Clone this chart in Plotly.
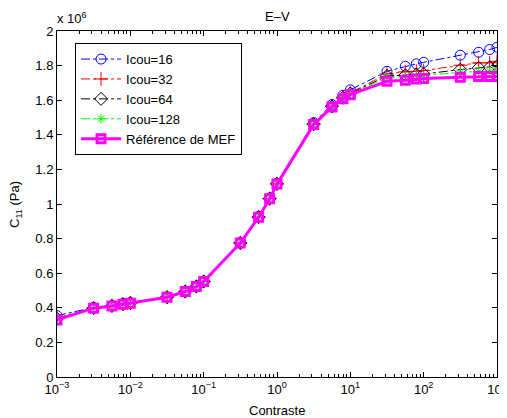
import plotly.graph_objects as go

contraste = [0.001, 0.00316, 0.00562, 0.00794, 0.01, 0.0316, 0.0562, 0.0794, 0.1,
             0.316, 0.562, 0.794, 1.0, 3.16, 5.62, 7.94, 10, 31.6, 56.2, 79.4, 100,
             316, 562, 794, 1000]

icou16 = [0.355, 0.402, 0.414, 0.424, 0.430, 0.463, 0.496, 0.525, 0.554, 0.777, 0.928,
          1.035, 1.120, 1.470, 1.575, 1.628, 1.660, 1.767, 1.796, 1.810, 1.819, 1.860,
          1.877, 1.893, 1.906]
icou32 = [0.342, 0.399, 0.412, 0.422, 0.428, 0.462, 0.495, 0.524, 0.553, 0.775, 0.925,
          1.032, 1.117, 1.463, 1.566, 1.617, 1.643, 1.752, 1.764, 1.767, 1.771, 1.802,
          1.816, 1.816, 1.825]
icou64 = [0.337, 0.398, 0.411, 0.421, 0.427, 0.461, 0.494, 0.523, 0.552, 0.774, 0.924,
          1.031, 1.116, 1.461, 1.564, 1.614, 1.639, 1.740, 1.745, 1.748, 1.751, 1.777,
          1.787, 1.790, 1.796]
icou128 = [0.334, 0.398, 0.411, 0.421, 0.427, 0.461, 0.494, 0.523, 0.552, 0.774, 0.924,
           1.030, 1.115, 1.460, 1.562, 1.611, 1.635, 1.731, 1.736, 1.739, 1.742, 1.761,
           1.764, 1.767, 1.771]
mef = [0.330, 0.398, 0.411, 0.421, 0.427, 0.461, 0.494, 0.523, 0.552, 0.774, 0.924,
       1.030, 1.115, 1.459, 1.561, 1.609, 1.632, 1.709, 1.716, 1.722, 1.725, 1.733,
       1.737, 1.737, 1.737]

x_tickvals = [1e-3, 1e-2, 1e-1, 1, 10, 100, 1000]
x_ticktext = ["10<sup>\u22123</sup>", "10<sup>\u22122</sup>", "10<sup>\u22121</sup>",
              "10<sup>0</sup>", "10<sup>1</sup>", "10<sup>2</sup>", "10<sup>3</sup>"]
y_tickvals = [0, 0.2, 0.4, 0.6, 0.8, 1.0, 1.2, 1.4, 1.6, 1.8, 2.0]
y_ticktext = ["0", "0.2", "0.4", "0.6", "0.8", "1", "1.2", "1.4", "1.6", "1.8", "2"]

minor_vals = [m * 10.0 ** e for e in range(-3, 3) for m in range(2, 10)]

FONT = "Liberation Sans, Arial, sans-serif"
FS = 13

fig = go.Figure()
fig.add_trace(go.Scatter(x=contraste, y=icou16, name="Icou=16", mode="lines+markers",
                         line=dict(color="#0000ff", width=1, dash="dashdot"),
                         marker=dict(symbol="circle-open", size=10, color="#0000ff",
                                     line=dict(width=1, color="#0000ff"))))
fig.add_trace(go.Scatter(x=contraste, y=icou32, name="Icou=32", mode="lines+markers",
                         line=dict(color="#ff0000", width=1, dash="dashdot"),
                         marker=dict(symbol="cross-thin-open", size=10, color="#ff0000",
                                     line=dict(width=1, color="#ff0000"))))
fig.add_trace(go.Scatter(x=contraste, y=icou64, name="Icou=64", mode="lines+markers",
                         line=dict(color="#000000", width=1, dash="dashdot"),
                         marker=dict(symbol="diamond-open", size=10, color="#000000",
                                     line=dict(width=1, color="#000000"))))
fig.add_trace(go.Scatter(x=contraste, y=icou128, name="Icou=128", mode="lines+markers",
                         line=dict(color="#00ff00", width=1, dash="dashdot"),
                         marker=dict(symbol="asterisk-open", size=8, color="#00ff00",
                                     line=dict(width=1, color="#00ff00"))))
fig.add_trace(go.Scatter(x=contraste, y=mef, name="Référence de MEF", mode="lines+markers",
                         line=dict(color="#ff00ff", width=3),
                         marker=dict(symbol="square-open", size=8, color="#ff00ff",
                                     line=dict(width=3, color="#ff00ff"))))

# the page body adds an 8px offset, so the figure is 8px smaller on each side
fig.update_layout(
    width=499, height=410,
    margin=dict(l=49, r=10, t=23, b=41),
    paper_bgcolor="white", plot_bgcolor="white",
    font=dict(family=FONT, size=FS, color="black"),
    showlegend=True,
    legend=dict(x=0.041, y=0.965, xanchor="left", yanchor="top",
                bgcolor="white", bordercolor="black", borderwidth=1,
                itemwidth=40,
                font=dict(family=FONT, size=FS), tracegroupgap=0),
    annotations=[
        dict(text="E\u2013V", x=0.5, y=1, xref="paper", yref="paper",
             xanchor="center", yanchor="middle", yshift=15, showarrow=False,
             font=dict(family=FONT, size=FS)),
        dict(text="x 10<sup>6</sup>", x=0, y=1, xref="paper", yref="paper",
             xanchor="left", yanchor="middle", yshift=13, xshift=-2, showarrow=False,
             font=dict(family=FONT, size=FS)),
        dict(text="Contraste", x=0.5, y=0, xref="paper", yref="paper",
             xanchor="center", yanchor="middle", yshift=-33, showarrow=False,
             font=dict(family=FONT, size=FS)),
        dict(text="C<sub>11</sub> (Pa)", x=-0.0955, y=0.5, xref="paper", yref="paper",
             xanchor="center", yanchor="middle", textangle=-90, showarrow=False,
             font=dict(family=FONT, size=FS)),
    ],
)

fig.update_xaxes(type="log", range=[-3, 3], tickmode="array", tickvals=x_tickvals,
                 ticktext=x_ticktext, ticks="inside", ticklen=5, tickwidth=1,
                 tickcolor="black", showline=True, linecolor="black", linewidth=1,
                 mirror="ticks", showgrid=False, zeroline=False, automargin=False,
                 minor=dict(tickmode="array", tickvals=minor_vals, ticks="inside",
                            ticklen=3, tickcolor="black", showgrid=False),
                 tickfont=dict(family=FONT, size=FS))
fig.update_yaxes(range=[0, 2], tickmode="array", tickvals=y_tickvals, ticktext=y_ticktext,
                 ticks="inside", ticklen=5, tickwidth=1, tickcolor="black",
                 showline=True, linecolor="black", linewidth=1, mirror="ticks",
                 showgrid=False, zeroline=False, automargin=False,
                 tickfont=dict(family=FONT, size=FS))

fig.write_html("out.html")
